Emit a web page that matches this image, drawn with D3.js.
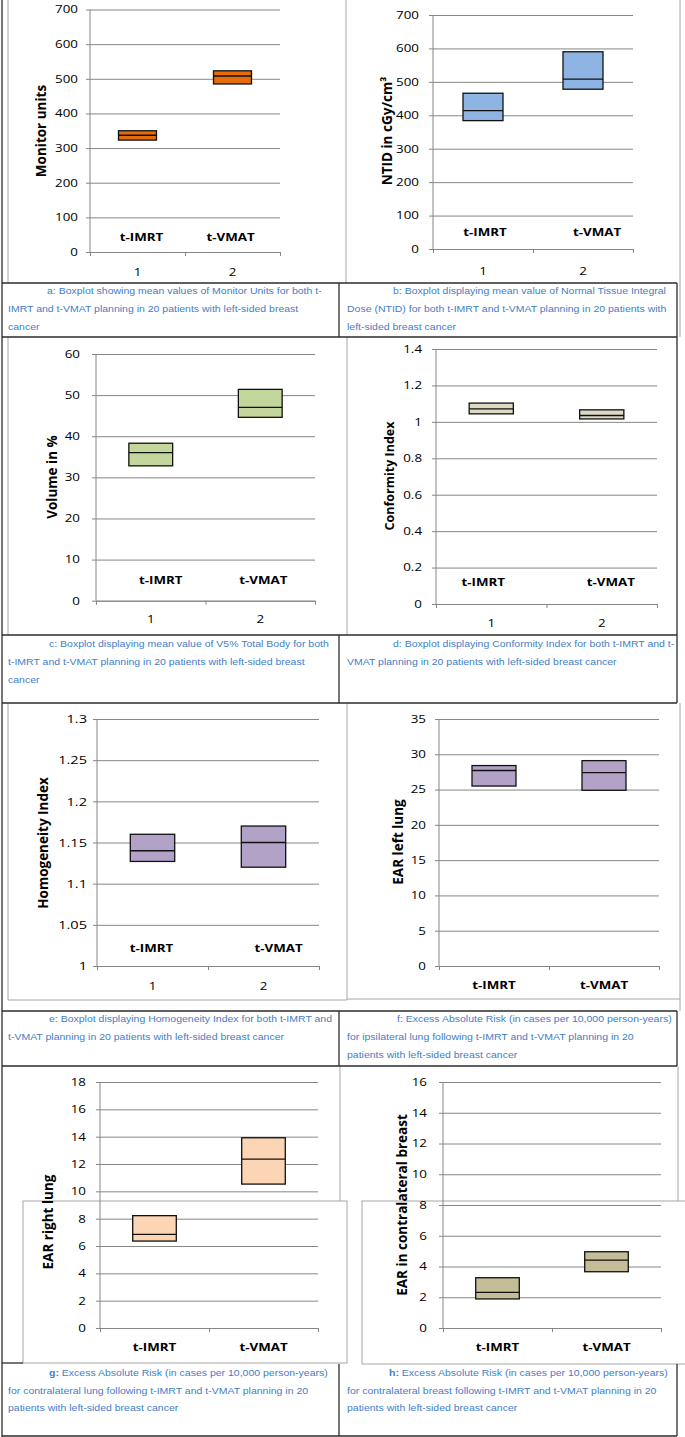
<!DOCTYPE html>
<html><head><meta charset="utf-8">
<script src="https://cdn.jsdelivr.net/npm/d3@7"></script>
<style>html,body{margin:0;padding:0;background:#fff;}svg{display:block;}</style>
</head><body>
<svg id="chart" width="685" height="1437"></svg>
<script>
// ---------- data ----------
const panelIds = ["a","b","c","d","e","f","g","h"];
const categories = ["t-IMRT", "t-VMAT"];
const categoryNumbers = ["1", "2"];
const yTitles = ["Monitor units", "NTID in cGy/cm\u00B3", "Volume in %", "Conformity Index",
                 "Homogeneity Index", "EAR left lung", "EAR right lung", "EAR in contralateral breast"];
const yMin  = [0, 0, 0, 0, 1, 0, 0, 0];
const yMax  = [700, 700, 60, 1.4, 1.3, 35, 18, 16];
const yStep = [100, 100, 10, 0.2, 0.05, 5, 2, 2];
const lowerQuartile = [[323, 485], [384, 478], [32.8, 44.6], [1.044, 1.016], [1.127, 1.120], [25.5, 24.9], [6.36, 10.53], [1.89, 3.66]];
const medianValue   = [[337, 508], [414, 508], [36.0, 47.0], [1.071, 1.035], [1.140, 1.150], [27.7, 27.4], [6.85, 12.36], [2.32, 4.42]];
const upperQuartile = [[350, 523], [466, 590], [38.3, 51.4], [1.103, 1.066], [1.160, 1.170], [28.4, 29.1], [8.22, 13.92], [3.27, 4.96]];
const captionLabels = ["a:", "b:", "c:", "d:", "e:", "f:", "g:", "h:"];
const captionTexts = [
  [" Boxplot showing mean values of Monitor Units for both t-", "IMRT and t-VMAT planning in 20 patients with left-sided breast", "cancer"],
  [" Boxplot displaying mean value of Normal Tissue Integral", "Dose (NTID) for both t-IMRT and t-VMAT planning in 20 patients with", "left-sided breast cancer"],
  [" Boxplot displaying mean value of V5% Total Body for both", "t-IMRT and t-VMAT planning in 20 patients with left-sided breast", "cancer"],
  [" Boxplot displaying Conformity Index for both t-IMRT and t-", "VMAT planning in 20 patients with left-sided breast cancer"],
  [" Boxplot displaying Homogeneity Index for both t-IMRT and", "t-VMAT planning in 20 patients with left-sided breast cancer"],
  [" Excess Absolute Risk (in cases per 10,000 person-years)", "for ipsilateral lung following t-IMRT and t-VMAT planning in 20", "patients with left-sided breast cancer"],
  [" Excess Absolute Risk (in cases per 10,000 person-years)", "for contralateral lung following t-IMRT and t-VMAT planning in 20", "patients with left-sided breast cancer"],
  [" Excess Absolute Risk (in cases per 10,000 person-years)", "for contralateral breast following t-IMRT and t-VMAT planning in 20", "patients with left-sided breast cancer"]
];

// ---------- styles / layout ----------
const boxFills = ["#E46C0A", "#8EB4E3", "#C3D69B", "#DDD9C3", "#B3A2C7", "#B3A2C7", "#FCD5B5", "#C4BD97"];
const layout = [
  {x0: 90,  x1: 280, yT: 9.5,  yB: 252,   lab: 12, tx: 41,  ty: 131,  tfs: 13.5, cdy: -15, cdx: [4, -2],  ndy: 20, nums: true,  tfsz: 10.5},
  {x0: 433, x1: 633, yT: 15,   yB: 249,   lab: 14, tx: 387, ty: 131,  tfs: 13.5, cdy: -17, cdx: [2, 14],  ndy: 22, nums: true,  tfsz: 10.5},
  {x0: 96,  x1: 315, yT: 354,  yB: 600.7, lab: 16, tx: 52,  ty: 477,  tfs: 13.5, cdy: -20, cdx: [10, 3],  ndy: 19, nums: true,  tfsz: 10.5},
  {x0: 436, x1: 657, yT: 349,  yB: 604,   lab: 14, tx: 390, ty: 476,  tfs: 12.5, cdy: -22, cdx: [-8, 9],  ndy: 19, nums: true,  tfsz: 10.5},
  {x0: 97,  x1: 319, yT: 719,  yB: 966,   lab: 10, tx: 43,  ty: 843,  tfs: 13.5, cdy: -18, cdx: [-1, 15], ndy: 20, nums: true,  tfsz: 11.5},
  {x0: 439, x1: 659, yT: 719,  yB: 966,   lab: 13, tx: 398, ty: 842,  tfs: 13.5, cdy: 19,  cdx: [0, 0],   ndy: 0,  nums: false, tfsz: 10.5},
  {x0: 100, x1: 318, yT: 1082, yB: 1328,  lab: 14, tx: 48,  ty: 1222, tfs: 13.5, cdy: 19,  cdx: [0, 0],   ndy: 0,  nums: false, tfsz: 10.5},
  {x0: 443, x1: 661, yT: 1082, yB: 1328,  lab: 16, tx: 402, ty: 1205, tfs: 13.5, cdy: 19,  cdx: [0, 0],   ndy: 0,  nums: false, tfsz: 10.5}
];
const capFirstX = [47, 393, 49, 393, 49, 397, 49, 389];
const capRestX  = [8, 347, 8, 347, 8, 347, 8, 347];
const capY0     = [294, 294, 647, 647, 1022, 1022, 1376, 1376];
const capGap    = [18, 18, 18, 18, 18, 18, 17.5, 17.5];

const SX = 1.27;
const FONT = "'Open Sans', 'DejaVu Sans', sans-serif";
const CAPFONT = "'Liberation Sans', Arial, sans-serif";
const GRID = "#868686";
const DARK = "#2b2b2b";
const LIGHT = "#a6a6a6";

const svg = d3.select("#chart");

// ---------- frames ----------
const frames = svg.append("g").attr("fill", "none");
function ln(x1, y1, x2, y2, c, w) {
  frames.append("line").attr("x1", x1).attr("y1", y1).attr("x2", x2).attr("y2", y2)
    .attr("stroke", c).attr("stroke-width", w || 1);
}
// light chart frames
ln(8, 0, 8, 283, LIGHT); ln(346, 0, 346, 283, LIGHT); ln(680, 0, 680, 337, LIGHT);
ln(8, 337, 8, 635, LIGHT); ln(347, 337, 347, 635, LIGHT);
ln(8, 703, 8, 1000, LIGHT); ln(8, 1000, 347, 1000, LIGHT); ln(347, 703, 347, 1000, LIGHT);
ln(347, 999, 680, 999, LIGHT); ln(680, 703, 680, 1011, LIGHT);
ln(340, 1066, 340, 1201, LIGHT); ln(678, 1066, 678, 1201, LIGHT);
frames.append("rect").attr("x", 23).attr("y", 1201).attr("width", 324).attr("height", 162).attr("stroke", LIGHT);
frames.append("rect").attr("x", 362).attr("y", 1201).attr("width", 340).attr("height", 163).attr("stroke", LIGHT);
// dark table lines
ln(2, 0, 2, 1437, DARK, 1.3);
[283, 337, 635, 703, 1011, 1066, 1436].forEach(y => ln(2, y, 677, y, DARK, 1.3));
ln(2, 1363, 23, 1363, DARK, 1.3);
[[283, 337], [635, 703], [1011, 1066], [1364, 1436]].forEach(([a, b]) => {
  ln(339, a, 339, b, DARK, 1.3); ln(677, a, 677, b, DARK, 1.3);
});
ln(677, 337, 677, 635, DARK, 1.3);

// ---------- helper for stretched text ----------
function stext(g, x, y, s, o) {
  return g.append("text")
    .attr("transform", `translate(${x},${y}) scale(${o.sx || SX},1)`)
    .attr("text-anchor", o.anchor || "middle")
    .attr("dy", o.dy === undefined ? "0.35em" : o.dy)
    .attr("font-family", o.family || FONT)
    .attr("font-size", o.size)
    .attr("font-weight", o.weight || "normal")
    .attr("fill", o.fill || "#000")
    .text(s);
}
const fmt = v => String(+v.toFixed(3));

// ---------- panels ----------
panelIds.forEach((id, i) => {
  const L = layout[i];
  const g = svg.append("g").attr("class", "panel-" + id);
  const w = L.x1 - L.x0;
  const ticks = d3.range(0, Math.round((yMax[i] - yMin[i]) / yStep[i]) + 1).map(k => +(yMin[i] + k * yStep[i]).toFixed(4));
  const y = d3.scaleLinear().domain([yMin[i], yMax[i]]).range([L.yB, L.yT]);
  const xIdx = d3.scaleLinear().domain([0, categories.length]).range([L.x0, L.x1]);
  const xBand = d3.scaleBand().domain(categories).range([L.x0, L.x1]).padding(0);

  // gridlines + y tick labels via axisLeft placed at right edge
  const yAx = g.append("g").attr("transform", `translate(${L.x1},0)`)
    .call(d3.axisLeft(y).tickValues(ticks).tickFormat(fmt).tickSizeInner(w + 4).tickSizeOuter(0).tickPadding(L.lab - 4));
  yAx.select(".domain").remove();
  yAx.selectAll(".tick line").attr("stroke", GRID).attr("stroke-width", 1);
  yAx.selectAll(".tick text").each(function () {
    const t = d3.select(this);
    const xx = +t.attr("x");
    t.attr("x", 0).attr("transform", `translate(${xx},0) scale(${SX},1)`)
      .attr("font-family", FONT).attr("font-size", L.tfsz).attr("fill", "#000");
  });

  // vertical axis line
  g.append("line").attr("x1", L.x0).attr("x2", L.x0).attr("y1", L.yT).attr("y2", L.yB)
    .attr("stroke", GRID).attr("stroke-width", 1);

  // x axis tick marks at category boundaries
  const xAx = g.append("g").attr("transform", `translate(0,${L.yB})`)
    .call(d3.axisBottom(xIdx).tickValues(d3.range(0, categories.length + 1)).tickFormat("").tickSizeInner(4).tickSizeOuter(0));
  xAx.select(".domain").attr("stroke", GRID);
  xAx.selectAll(".tick line").attr("stroke", GRID);

  // category number labels (1, 2) or category names below axis
  const labs = L.nums ? categoryNumbers : categories;
  labs.forEach((s, k) => {
    const cx = xBand(categories[k]) + xBand.bandwidth() / 2;
    if (L.nums) {
      stext(g, cx, L.yB + L.ndy, s, {size: 10.5});
    } else {
      stext(g, cx, L.yB + L.cdy, s, {size: 10.5, weight: "bold"});
    }
  });
  // in-plot category names for panels with numeric axis
  if (L.nums) {
    categories.forEach((c, k) => {
      const cx = xBand(c) + xBand.bandwidth() / 2 + L.cdx[k];
      stext(g, cx, L.yB + L.cdy, c, {size: 10.5, weight: "bold"});
    });
  }

  // boxes
  const bw = xBand.bandwidth() * 0.4;
  categories.forEach((c, k) => {
    const bx = xBand(c) + (xBand.bandwidth() - bw) / 2;
    g.append("rect").attr("x", bx).attr("y", y(upperQuartile[i][k]))
      .attr("width", bw).attr("height", y(lowerQuartile[i][k]) - y(upperQuartile[i][k]))
      .attr("fill", boxFills[i]).attr("stroke", "#111").attr("stroke-width", 1.3);
    g.append("line").attr("x1", bx).attr("x2", bx + bw)
      .attr("y1", y(medianValue[i][k])).attr("y2", y(medianValue[i][k]))
      .attr("stroke", "#111").attr("stroke-width", 1.3);
  });

  // y title
  g.append("text").attr("transform", `translate(${L.tx},${L.ty}) rotate(-90)`)
    .attr("text-anchor", "middle").attr("dy", "0.35em")
    .attr("font-family", FONT).attr("font-weight", "bold").attr("font-size", L.tfs)
    .attr("fill", "#000").text(yTitles[i]);

  // caption
  const lines = captionTexts[i];
  lines.forEach((s, k) => {
    const t = g.append("text")
      .attr("transform", `translate(${k === 0 ? capFirstX[i] : capRestX[i]},${capY0[i] + k * capGap[i]}) scale(1.25,1)`)
      .attr("font-family", CAPFONT).attr("font-size", 8.4).attr("fill", "#3F7EC6");
    if (k === 0) {
      t.append("tspan").attr("font-weight", (id === "g" || id === "h") ? "bold" : "normal").text(captionLabels[i]);
    }
    t.append("tspan").text(s);
  });
});
</script>
</body></html>
